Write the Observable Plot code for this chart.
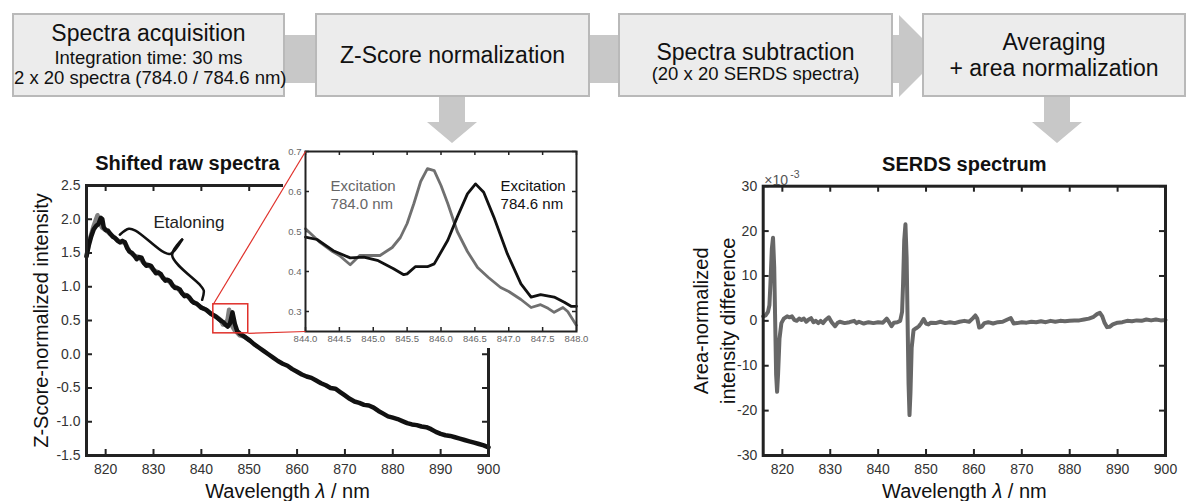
<!DOCTYPE html>
<html>
<head>
<meta charset="utf-8">
<script src="https://cdn.jsdelivr.net/npm/d3@7"></script>
<script src="https://cdn.jsdelivr.net/npm/@observablehq/plot@0.6"></script>
<style>
  html, body { margin: 0; padding: 0; background: #fff; }
  #root { position: relative; width: 1189px; height: 501px; overflow: hidden; background: #fff;
          font-family: 'Liberation Sans', Arial, sans-serif; color: #111; }
  .box { position: absolute; top: 13px; height: 84px; box-sizing: border-box;
         background: #ececec; border: 2px solid #b9b9b9; }
  .line { position: absolute; left: 0; width: 100%; text-align: center; white-space: nowrap; }
  .conn { position: absolute; background: #c8c8c8; }
  .abs { position: absolute; }
</style>
</head>
<body>
<div id="root"></div>
<script>
// ---------------- DATA ----------------
// Flowchart steps (text only)
const flowTitles = ["Spectra acquisition", "Z-Score normalization", "Spectra subtraction", "Averaging"];
const flowSubs = [["Integration time: 30 ms", "2 x 20 spectra (784.0 / 784.6 nm)"], [], ["(20 x 20 SERDS spectra)"], ["+ area normalization"]];

// Shifted raw spectra: excitation 784.6 nm (black)
const rawWl7846 = [816,816.5,817,817.5,818,818.5,819,819.3,819.6,820,820.5,821,821.5,822,822.5,823,823.5,824,824.5,825,825.5,826,826.5,827,827.5,828,828.5,829,829.5,830,830.5,831,831.5,832,832.5,833,833.5,834,834.5,835,835.5,836,836.5,837,837.5,838,838.5,839,839.5,840,841,842,843,844,844.5,845,845.5,846,846.5,847,847.5,848,849,850,851,852,853,854,855,856,857,858,859,860,861,862,863,864,865,866,867,868,869,870,871,872,873,874,875,876,877,878,879,880,881,882,883,884,885,886,887,888,889,890,891,892,893,894,895,896,897,898,899,900];
const rawZ7846 = [1.45,1.62,1.75,1.85,1.90,1.93,2.02,2.00,1.88,1.84,1.83,1.78,1.74,1.72,1.68,1.66,1.68,1.66,1.57,1.52,1.50,1.46,1.41,1.44,1.43,1.35,1.31,1.32,1.31,1.25,1.20,1.21,1.19,1.13,1.09,1.10,1.08,1.02,0.98,0.98,0.96,0.90,0.86,0.87,0.84,0.79,0.76,0.75,0.72,0.69,0.66,0.60,0.56,0.50,0.48,0.44,0.41,0.46,0.62,0.45,0.34,0.31,0.26,0.21,0.15,0.10,0.05,0.00,-0.05,-0.10,-0.14,-0.17,-0.22,-0.26,-0.30,-0.33,-0.35,-0.39,-0.43,-0.46,-0.50,-0.51,-0.56,-0.61,-0.66,-0.70,-0.72,-0.75,-0.76,-0.79,-0.84,-0.88,-0.92,-0.94,-0.96,-0.99,-1.02,-1.04,-1.05,-1.07,-1.08,-1.11,-1.15,-1.18,-1.20,-1.21,-1.23,-1.25,-1.27,-1.29,-1.31,-1.33,-1.35,-1.38];
// Shifted raw spectra: excitation 784.0 nm (gray, mostly hidden below the black one)
const rawWl7840 = [816,816.5,817,817.5,818,818.3,818.7,819.2,820,821,822,823,824,825,826,827,828,829,830,831,832,833,834,835,836,837,838,839,840,841,842,843,844,844.5,845,845.5,845.8,846.1,846.5,847,847.5,848,849,850];
const rawZ7840 = [1.45,1.66,1.78,1.90,2.00,2.06,1.98,1.88,1.84,1.78,1.72,1.66,1.66,1.52,1.46,1.44,1.35,1.32,1.25,1.21,1.13,1.10,1.02,0.98,0.90,0.87,0.79,0.75,0.69,0.66,0.60,0.56,0.51,0.44,0.44,0.52,0.66,0.57,0.41,0.35,0.32,0.28,0.26,0.21];
const rawXTicks = [820,830,840,850,860,870,880,890,900];
const rawYTicks = [-1.5,-1.0,-0.5,0.0,0.5,1.0,1.5,2.0,2.5];

// Inset (zoom 844-848 nm)
const insWl7840 = [844.0,844.2,844.4,844.5,844.66,844.8,845.0,845.1,845.28,845.4,845.5,845.6,845.7,845.8,845.9,846.0,846.1,846.24,846.39,846.54,846.7,846.88,847.0,847.18,847.33,847.47,847.58,847.67,847.8,847.87,848.0];
const insZ7840 = [0.507,0.475,0.450,0.440,0.417,0.440,0.440,0.440,0.460,0.485,0.520,0.570,0.625,0.657,0.652,0.615,0.570,0.500,0.450,0.410,0.385,0.360,0.350,0.330,0.310,0.317,0.308,0.298,0.310,0.300,0.265];
const insWl7846 = [844.0,844.17,844.41,844.66,844.86,845.06,845.3,845.45,845.5,845.62,845.8,845.9,846.1,846.24,846.39,846.51,846.63,846.78,846.98,847.18,847.33,847.47,847.67,847.82,847.92,848.0];
const insZ7846 = [0.486,0.480,0.452,0.434,0.436,0.428,0.407,0.392,0.394,0.412,0.412,0.419,0.478,0.536,0.594,0.619,0.598,0.536,0.444,0.369,0.336,0.342,0.336,0.323,0.313,0.313];
const insXTicks = [844.0,844.5,845.0,845.5,846.0,846.5,847.0,847.5,848.0];
const insYTicks = [0.3,0.4,0.5,0.6,0.7];

// Zoom box drawn on the raw spectra (data units of the main panel)
const zoomBox = [{x1: 842.5, x2: 849.8, y1: 0.31, y2: 0.74}];

// Etaloning brace (data units of the main panel)
const braceX = [822.96,824.84,826.23,832.15,833.55,835.99, 835.99,833.90,839.81,840.50,840.17];
const braceY = [1.770,1.859,1.833,1.512,1.488,1.700, 1.700,1.463,1.019,0.944,0.807];
const bracePart = ["a","a","a","a","a","a","b","b","b","b","b"];

// SERDS spectrum (x 10^-3)
const serdsWl = [816,816.5,817,817.3,817.5,817.8,818.05,818.3,818.5,818.7,818.9,819.1,819.4,819.8,820.3,821,821.5,822,822.5,823,823.5,824,824.5,825,825.5,826,826.5,827,827.5,828,828.5,829,829.7,830.3,831,831.5,832,833,834,835,835.5,836,837,838,839,840,841,841.8,842.3,842.8,843.3,844,844.6,845.0,845.2,845.45,845.7,845.95,846.15,846.35,846.55,846.75,847.0,847.4,848,848.5,849,849.5,850,850.5,851,852,853,854,855,856,857,858,859,859.8,860.3,860.7,861.1,861.6,862.2,863,864,865,866,867,867.7,868.3,869,870,871,872,873,874,875,876,877,878,879,880,881,882,883,884,885,885.7,886.3,886.8,887.3,887.8,888.4,889,890,891,892,893,894,895,896,897,898,899,900];
const serdsVal = [1.0,1.2,2.0,3.5,8,16,18.5,12,0,-12,-15.8,-12,-4,-0.5,0.5,1,0.8,1,0.2,0,0.5,0.2,0.5,-0.2,0.3,0.6,-0.3,0,-0.5,0,-0.5,0.2,0.8,-0.3,-1.2,-0.5,-0.2,-0.5,-0.3,0,-0.5,-0.2,-0.6,-0.3,-0.5,-0.3,-0.4,0.5,-0.3,-1.2,-0.4,-0.3,0,2,8,18,21.5,14,0,-14,-21,-16,-6,-2,-1.6,-1.2,-0.5,0.4,-0.6,-0.8,-0.4,-0.5,-0.2,-0.5,-0.3,-0.5,-0.2,0,-0.2,0.6,1.2,0.5,-1.5,-1.3,-0.5,-0.3,-0.6,-0.3,-0.2,0.3,0.6,-0.6,-0.5,-0.3,-0.4,-0.2,-0.3,-0.1,-0.3,0,-0.2,0,-0.1,0,0.1,0.1,0.3,0.5,0.9,1.5,1.8,1,-0.5,-1.4,-1.3,-0.8,-0.4,-0.3,0,-0.1,0.1,0,0.3,0.1,0.3,0.1,0.2];
const serdsXTicks = [820,830,840,850,860,870,880,890,900];
const serdsYTicks = [-30,-20,-10,0,10,20,30];

// ---------------- LAYOUT ----------------
const FONT = "'Liberation Sans', Arial, sans-serif";
const INK = "#222";
const root = document.getElementById("root");

// Flowchart
const boxes = [{l: 12, r: 285}, {l: 315, r: 590}, {l: 618, r: 893}, {l: 922, r: 1186}];
const lineCenters = [[33, 58, 78], [55], [52, 74], [42.5, 68.5]];
const conns = [{l: 283, w: 34}, {l: 588, w: 32}, {l: 891, w: 10}];
for (const c of conns) {
  const d = document.createElement("div");
  d.className = "conn";
  Object.assign(d.style, {left: c.l + "px", top: "35px", width: c.w + "px", height: "48px"});
  root.appendChild(d);
}
const deco = d3.select(root).append("svg").attr("class", "abs")
  .style("left", "0px").style("top", "0px").attr("width", 1189).attr("height", 160)
  .style("z-index", 5).style("pointer-events", "none");
deco.append("polygon").attr("points", "899,15 899,97 940,56").attr("fill", "#c8c8c8");
flowTitles.forEach((t, i) => {
  const b = boxes[i];
  const box = document.createElement("div");
  box.className = "box";
  Object.assign(box.style, {left: b.l + "px", width: (b.r - b.l) + "px", zIndex: 6});
  const lines = [{text: t, size: 23}].concat(flowSubs[i].map(s => ({text: s, size: i === 3 ? 23 : 18.5})));
  lines.forEach((ln, j) => {
    const d = document.createElement("div");
    d.className = "line";
    const lh = ln.size;
    Object.assign(d.style, {top: (lineCenters[i][j] - 15 - lh / 2) + "px", fontSize: ln.size + "px", lineHeight: lh + "px"});
    d.textContent = ln.text;
    box.appendChild(d);
  });
  root.appendChild(box);
});
// down arrows
const arrows = d3.select(root).append("svg").attr("class", "abs")
  .style("left", "0px").style("top", "0px").attr("width", 1189).attr("height", 160)
  .style("z-index", 7).style("pointer-events", "none");
for (const cx of [452, 1057]) {
  arrows.append("polygon").attr("fill", "#c8c8c8")
    .attr("points", `${cx-13},97 ${cx+13},97 ${cx+13},122 ${cx+25},122 ${cx},143 ${cx-25},122 ${cx-13},122`);
}

function italicLambda(svg) {
  for (const t of svg.querySelectorAll("text")) {
    if (t.textContent === "Wavelength λ / nm") {
      const s = d3.select(t); s.text(null);
      s.append("tspan").text("Wavelength ");
      s.append("tspan").attr("font-style", "italic").text("λ");
      s.append("tspan").text(" / nm");
    }
  }
}
function place(el, left, top, z) {
  el.style.position = "absolute"; el.style.left = left + "px"; el.style.top = top + "px";
  el.style.zIndex = z; el.style.overflow = "visible";
  root.appendChild(el);
}

// ---------------- MAIN PANEL ----------------
const raw7846 = rawWl7846.map((x, i) => ({x, y: rawZ7846[i]}));
const raw7840 = rawWl7840.map((x, i) => ({x, y: rawZ7840[i]}));
const brace = braceX.map((x, i) => ({x, y: braceY[i], z: bracePart[i]}));
const M = {w: 520, h: 401, l: 86, r: 32, t: 85, b: 46, left: 0, top: 100};
const mfh = M.h - M.t - M.b, mfw = M.w - M.l - M.r;
const main = Plot.plot({
  width: M.w, height: M.h, marginLeft: M.l, marginRight: M.r, marginTop: M.t, marginBottom: M.b,
  x: {domain: [816, 900], label: null},
  y: {domain: [-1.5, 2.5], label: null},
  style: {fontFamily: FONT, background: "transparent", overflow: "visible", color: "#333"},
  marks: [
    Plot.axisX(rawXTicks, {tickSize: 0, tickPadding: 9, fontSize: 14, label: null, tickFormat: d => String(d)}),
    Plot.axisY(rawYTicks, {tickSize: 0, tickPadding: 6, fontSize: 14, label: null, tickFormat: d => d.toFixed(1)}),
    Plot.tickX(rawXTicks, {x: d => d, insetTop: mfh - 6, stroke: INK, strokeWidth: 2}),
    Plot.tickX(rawXTicks, {x: d => d, insetBottom: mfh - 6, stroke: INK, strokeWidth: 2}),
    Plot.tickY(rawYTicks, {y: d => d, insetRight: mfw - 6, stroke: INK, strokeWidth: 2}),
    Plot.tickY(rawYTicks, {y: d => d, insetLeft: mfw - 6, stroke: INK, strokeWidth: 2}),
    Plot.line(raw7840, {x: "x", y: "y", stroke: "#808080", strokeWidth: 4.5, strokeLinejoin: "round", strokeLinecap: "round"}),
    Plot.line(raw7846, {x: "x", y: "y", stroke: "#111", strokeWidth: 4.5, strokeLinejoin: "round", strokeLinecap: "round"}),
    Plot.rect(zoomBox, {x1: "x1", x2: "x2", y1: "y1", y2: "y2", fill: "none", stroke: "#e0302a", strokeWidth: 1.5}),
    Plot.line(brace, {x: "x", y: "y", z: "z", stroke: "#111", strokeWidth: 2.5, curve: "catmull-rom", strokeLinecap: "round"}),
    Plot.text(["Etaloning"], {x: 837.4, y: 1.95, text: d => d, fontSize: 17, fill: "#222"}),
    Plot.frame({stroke: INK, strokeWidth: 3}),
    Plot.text(["Shifted raw spectra"], {x: 837.1, frameAnchor: "top", dy: -22, lineAnchor: "middle", text: d => d, fontSize: 20, fontWeight: "bold", fill: "#111"}),
    Plot.text(["Z-Score-normalized intensity"], {frameAnchor: "left", rotate: -90, dx: -45, textAnchor: "middle", lineAnchor: "middle", text: d => d, fontSize: 20, fill: "#111"}),
    Plot.text(["Wavelength λ / nm"], {frameAnchor: "bottom", dy: 36, lineAnchor: "middle", text: d => d, fontSize: 20, fill: "#111"})
  ]
});
italicLambda(main);
place(main, M.left, M.top, 1);

// ---------------- INSET ----------------
const I = {w: 305, h: 205, l: 22, r: 12, t: 8, b: 17, left: 283, top: 143};
const ifh = I.h - I.t - I.b, ifw = I.w - I.l - I.r;
const ixs = Plot.scale({x: {domain: [844, 848], range: [I.l, I.w - I.r]}});
const iys = Plot.scale({y: {domain: [0.25, 0.7], range: [I.h - I.b, I.t]}});
const mxs = main.scale("x"), mys = main.scale("y");
// red connector lines: zoom-box corners mapped from the main panel into the inset's coordinates
const toInset = (x, y) => ({
  x: ixs.invert(mxs.apply(x) + M.left - I.left),
  y: iys.invert(mys.apply(y) + M.top - I.top)
});
const zb = zoomBox[0];
const cTL = toInset(zb.x1, zb.y2), cBR = toInset(zb.x2, zb.y1);
const connectors = [
  {x1: cTL.x, y1: cTL.y, x2: 844, y2: 0.7},
  {x1: cBR.x, y1: cBR.y, x2: 844, y2: 0.25}
];
const ins7840 = insWl7840.map((x, i) => ({x, y: insZ7840[i]}));
const ins7846 = insWl7846.map((x, i) => ({x, y: insZ7846[i]}));
const inset = Plot.plot({
  width: I.w, height: I.h, marginLeft: I.l, marginRight: I.r, marginTop: I.t, marginBottom: I.b,
  x: {domain: [844, 848], label: null},
  y: {domain: [0.25, 0.7], label: null},
  style: {fontFamily: FONT, background: "white", overflow: "visible", color: "#666"},
  marks: [
    Plot.axisX(insXTicks, {tickSize: 0, tickPadding: 4, fontSize: 9.5, label: null, tickFormat: d => d.toFixed(1)}),
    Plot.axisY(insYTicks, {tickSize: 0, tickPadding: 4, fontSize: 9.5, label: null, tickFormat: d => d.toFixed(1)}),
    Plot.tickX(insXTicks, {x: d => d, insetTop: ifh - 4, stroke: INK, strokeWidth: 1.5}),
    Plot.tickX(insXTicks, {x: d => d, insetBottom: ifh - 4, stroke: INK, strokeWidth: 1.5}),
    Plot.tickY(insYTicks, {y: d => d, insetRight: ifw - 4, stroke: INK, strokeWidth: 1.5}),
    Plot.tickY(insYTicks, {y: d => d, insetLeft: ifw - 4, stroke: INK, strokeWidth: 1.5}),
    Plot.line(ins7840, {x: "x", y: "y", stroke: "#707070", strokeWidth: 2.8, strokeLinejoin: "round"}),
    Plot.line(ins7846, {x: "x", y: "y", stroke: "#111", strokeWidth: 2.8, strokeLinejoin: "round"}),
    Plot.text(["Excitation\n784.0 nm"], {x: 844.37, y: 0.5925, text: d => d, textAnchor: "start", fontSize: 15, lineHeight: 1.2, fill: "#666"}),
    Plot.text(["Excitation\n784.6 nm"], {x: 846.88, y: 0.5925, text: d => d, textAnchor: "start", fontSize: 15, lineHeight: 1.2, fill: "#111"}),
    Plot.frame({stroke: INK, strokeWidth: 2}),
    Plot.link(connectors, {x1: "x1", y1: "y1", x2: "x2", y2: "y2", stroke: "#e0302a", strokeWidth: 1.2})
  ]
});
place(inset, I.left, I.top, 2);

// ---------------- SERDS PANEL ----------------
const serds = serdsWl.map((x, i) => ({x, y: serdsVal[i]}));
const S = {w: 549, h: 401, l: 122.7, r: 24, t: 85.7, b: 46, left: 640, top: 100};
const sfh = S.h - S.t - S.b, sfw = S.w - S.l - S.r;
const serdsPlot = Plot.plot({
  width: S.w, height: S.h, marginLeft: S.l, marginRight: S.r, marginTop: S.t, marginBottom: S.b,
  x: {domain: [816, 900], label: null},
  y: {domain: [-30, 30], label: null},
  style: {fontFamily: FONT, background: "transparent", overflow: "visible", color: "#333"},
  marks: [
    Plot.axisX(serdsXTicks, {tickSize: 0, tickPadding: 9, fontSize: 14, label: null, tickFormat: d => String(d)}),
    Plot.axisY(serdsYTicks, {tickSize: 0, tickPadding: 6, fontSize: 14, label: null, tickFormat: d => String(d)}),
    Plot.tickX(serdsXTicks, {x: d => d, insetTop: sfh - 6, stroke: INK, strokeWidth: 2}),
    Plot.tickX(serdsXTicks, {x: d => d, insetBottom: sfh - 6, stroke: INK, strokeWidth: 2}),
    Plot.tickY(serdsYTicks, {y: d => d, insetRight: sfw - 6, stroke: INK, strokeWidth: 2}),
    Plot.tickY(serdsYTicks, {y: d => d, insetLeft: sfw - 6, stroke: INK, strokeWidth: 2}),
    Plot.line(serds, {x: "x", y: "y", stroke: "#676767", strokeWidth: 4, strokeLinejoin: "round", strokeLinecap: "round"}),
    Plot.frame({stroke: INK, strokeWidth: 3}),
    Plot.text(["×10"], {frameAnchor: "top-left", dx: 1, dy: -6, textAnchor: "start", lineAnchor: "middle", text: d => d, fontSize: 14, fill: "#555"}),
    Plot.text(["-3"], {frameAnchor: "top-left", dx: 27, dy: -12, textAnchor: "start", lineAnchor: "middle", text: d => d, fontSize: 10.5, fill: "#555"}),
    Plot.text(["SERDS spectrum"], {frameAnchor: "top", dy: -22, lineAnchor: "middle", text: d => d, fontSize: 20, fontWeight: "bold", fill: "#111"}),
    Plot.text(["Area-normalized\nintensity difference"], {frameAnchor: "left", rotate: -90, dx: -50, textAnchor: "middle", lineAnchor: "middle", lineHeight: 1.35, text: d => d, fontSize: 20, fill: "#111"}),
    Plot.text(["Wavelength λ / nm"], {frameAnchor: "bottom", dy: 36, lineAnchor: "middle", text: d => d, fontSize: 20, fill: "#111"})
  ]
});
italicLambda(serdsPlot);
place(serdsPlot, S.left, S.top, 1);
</script>
</body>
</html>
